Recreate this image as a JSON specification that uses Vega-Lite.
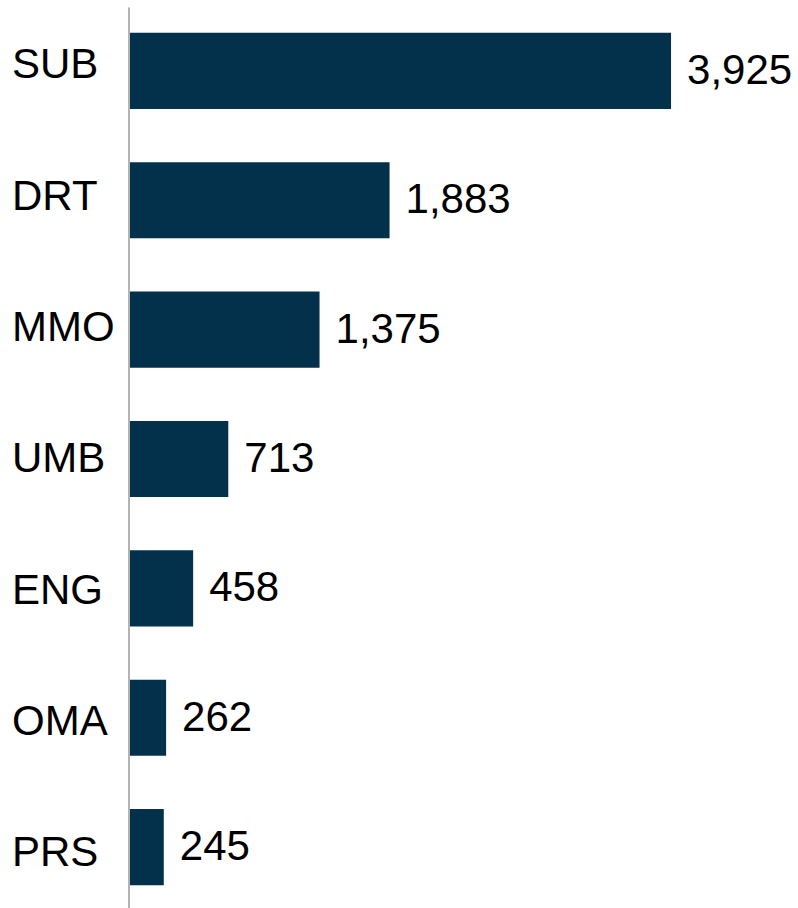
{
  "$schema": "https://vega.github.io/schema/vega-lite/v6.json",
  "width": 668,
  "height": 904,
  "autosize": {"type": "none"},
  "padding": {"left": 130, "top": 7, "right": 0, "bottom": 0},
  "background": "white",
  "config": {"view": {"stroke": null}, "font": "Liberation Sans"},
  "data": {
    "values": [
      {"cat": "SUB", "value": 3925},
      {"cat": "DRT", "value": 1883},
      {"cat": "MMO", "value": 1375},
      {"cat": "UMB", "value": 713},
      {"cat": "ENG", "value": 458},
      {"cat": "OMA", "value": 262},
      {"cat": "PRS", "value": 245}
    ]
  },
  "encoding": {
    "y": {
      "field": "cat",
      "type": "nominal",
      "sort": null,
      "scale": {"paddingInner": 0.412, "paddingOuter": 0.2},
      "axis": {
        "title": null,
        "ticks": false,
        "tickSize": 0,
        "domainColor": "#9a9a9a",
        "domainWidth": 1.5,
        "offset": 1.5,
        "labelAlign": "left",
        "labelBaseline": "middle",
        "labelPadding": 117,
        "labelFont": "Liberation Sans",
        "labelFontSize": 42,
        "labelColor": "#000000",
        "labelOffset": {"expr": "-5.5 + 11.5 * datum.index"}
      }
    },
    "x": {
      "field": "value",
      "type": "quantitative",
      "scale": {"domain": [0, 4846], "nice": false, "zero": true},
      "axis": null
    }
  },
  "layer": [
    {"mark": {"type": "bar", "color": "#03304A"}},
    {
      "mark": {"type": "text", "align": "left", "baseline": "middle", "dx": 16, "fontSize": 42, "font": "Liberation Sans", "color": "#000000"},
      "encoding": {"text": {"field": "value", "type": "quantitative", "format": ","}}
    }
  ]
}
